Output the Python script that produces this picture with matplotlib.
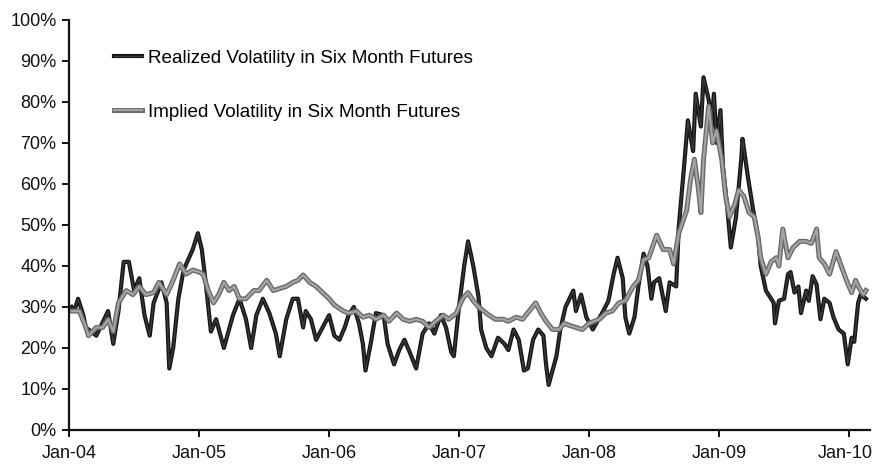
import numpy as np
import pandas as pd
import matplotlib
matplotlib.use("Agg")
import matplotlib.pyplot as plt
import matplotlib.dates as mdates
import matplotlib.patheffects as pe
import matplotlib.transforms as mtrans
from matplotlib.ticker import FuncFormatter, MultipleLocator

plt.rcParams['font.family'] = ['Liberation Sans', 'DejaVu Sans']

# ---------------- data (decimal years, volatility in %) ----------------
realized_t = [
    2004.02, 2004.04, 2004.07, 2004.11, 2004.13, 2004.21, 2004.30, 2004.34, 2004.38, 2004.42,
    2004.46, 2004.50, 2004.54, 2004.58, 2004.62, 2004.65, 2004.71, 2004.75, 2004.77, 2004.80,
    2004.84, 2004.88, 2004.95, 2004.99,
    2005.02, 2005.05, 2005.09, 2005.13, 2005.19, 2005.26, 2005.31, 2005.36, 2005.40, 2005.44,
    2005.49, 2005.54, 2005.59, 2005.62, 2005.67, 2005.72, 2005.76, 2005.80, 2005.82, 2005.86,
    2005.90, 2005.95,
    2006.00, 2006.04, 2006.08, 2006.12, 2006.15, 2006.19, 2006.23, 2006.26, 2006.28, 2006.32,
    2006.36, 2006.42, 2006.45, 2006.50, 2006.54, 2006.58, 2006.62, 2006.67, 2006.72, 2006.77,
    2006.81, 2006.86, 2006.90, 2006.94, 2006.96,
    2007.00, 2007.04, 2007.07, 2007.11, 2007.15, 2007.17, 2007.21, 2007.25, 2007.30, 2007.35,
    2007.38, 2007.42, 2007.46, 2007.50, 2007.53, 2007.57, 2007.61, 2007.65, 2007.67, 2007.69,
    2007.75, 2007.78, 2007.82, 2007.88, 2007.90, 2007.94, 2007.98,
    2008.03, 2008.11, 2008.15, 2008.19, 2008.22, 2008.26, 2008.28, 2008.31, 2008.35, 2008.38,
    2008.42, 2008.45, 2008.48, 2008.50, 2008.54, 2008.59, 2008.62, 2008.67, 2008.69, 2008.73,
    2008.76, 2008.80, 2008.82, 2008.86, 2008.88, 2008.92, 2008.94, 2008.96, 2008.98,
    2009.01, 2009.03, 2009.06, 2009.09, 2009.13, 2009.17, 2009.18, 2009.22, 2009.26, 2009.30,
    2009.32, 2009.36, 2009.42, 2009.43, 2009.46, 2009.50, 2009.53, 2009.55, 2009.58, 2009.61,
    2009.63, 2009.67, 2009.69, 2009.72, 2009.75, 2009.78, 2009.81, 2009.85, 2009.88, 2009.92,
    2009.96, 2009.99,
    2010.02, 2010.04, 2010.07, 2010.09, 2010.13,
]
realized_v = [
    30, 29, 32, 28, 25, 23, 29, 21, 29, 41,
    41, 34, 37, 28, 23, 31, 36, 31, 15, 20,
    32, 39, 44, 48,
    44, 36, 24, 27, 20, 28, 32, 27, 20, 28,
    32, 28.5, 23.5, 18, 27, 32, 32, 25, 29, 27,
    22, 25,
    28, 23, 22, 25, 28, 30, 26, 21, 14.5, 21,
    28.5, 28, 21, 16, 19.5, 22, 19, 15, 23.5, 26,
    23.5, 28, 25, 19, 18,
    30, 40, 46, 40, 32.5, 24.5, 20, 18, 22.5, 21,
    19.5, 24.5, 22, 14.5, 15, 22, 24.5, 23, 16, 11,
    18, 24.5, 30, 34, 29, 33, 27.5,
    24.5, 29, 31.5, 38, 42, 37, 27.5, 23.5, 27.5, 35,
    43, 40, 32, 36, 37, 29, 36, 35, 49.5, 64,
    75.5, 68, 82, 74, 86, 80.5, 74, 82, 70,
    78, 64, 55, 44.5, 52, 66, 71, 62, 54, 47,
    40, 34, 31, 26, 31.5, 32, 38, 38.5, 33.5, 35,
    28.5, 34, 31.5, 37.5, 35.5, 27, 32, 31, 27.5, 24.5,
    23.5, 16,
    22.5, 21.5, 31, 33, 32,
]

implied_t = [
    2004.02, 2004.08, 2004.13, 2004.15, 2004.21, 2004.26, 2004.30, 2004.34, 2004.38, 2004.44,
    2004.49, 2004.54, 2004.59, 2004.65, 2004.69, 2004.75, 2004.80, 2004.85, 2004.90, 2004.95,
    2005.00, 2005.03, 2005.07, 2005.11, 2005.15, 2005.19, 2005.23, 2005.27, 2005.31, 2005.36,
    2005.42, 2005.46, 2005.52, 2005.57, 2005.62, 2005.67, 2005.72, 2005.76, 2005.80, 2005.85,
    2005.90, 2005.95,
    2006.00, 2006.04, 2006.11, 2006.15, 2006.21, 2006.26, 2006.31, 2006.36, 2006.42, 2006.46,
    2006.52, 2006.57, 2006.62, 2006.67, 2006.72, 2006.77, 2006.82, 2006.88, 2006.92, 2006.98,
    2007.02, 2007.04, 2007.07, 2007.11, 2007.15, 2007.19, 2007.23, 2007.28, 2007.34, 2007.38,
    2007.44, 2007.49, 2007.54, 2007.59, 2007.63, 2007.67, 2007.72, 2007.77, 2007.81, 2007.85,
    2007.90, 2007.95,
    2008.00, 2008.08, 2008.13, 2008.18, 2008.23, 2008.28, 2008.34, 2008.38, 2008.42, 2008.46,
    2008.52, 2008.57, 2008.62, 2008.65, 2008.69, 2008.75, 2008.78, 2008.81, 2008.84, 2008.86,
    2008.88, 2008.92, 2008.95, 2008.98,
    2009.02, 2009.05, 2009.08, 2009.12, 2009.15, 2009.19, 2009.23, 2009.27, 2009.30, 2009.32,
    2009.36, 2009.40, 2009.44, 2009.46, 2009.49, 2009.53, 2009.57, 2009.62, 2009.67, 2009.71,
    2009.75, 2009.77, 2009.81, 2009.85, 2009.90, 2009.94, 2009.98,
    2010.02, 2010.05, 2010.08, 2010.11, 2010.13,
]
implied_v = [
    29, 29, 25, 23, 25, 25, 27, 24, 31, 34,
    33, 35, 33, 33.5, 36, 33, 36.5, 40.5, 38, 39,
    38.5, 38, 34, 31, 33, 36, 34, 35, 32, 32,
    34, 34, 36.5, 34, 34.5, 35, 36, 36.5, 37.8, 36,
    35, 33.5,
    32, 30.5, 29, 28.5, 29, 27.5, 28, 27, 28, 26.5,
    28.5, 27, 26.5, 27, 26.5, 25, 26.5, 28, 27, 28.5,
    31.5, 32.5, 33.5, 31.5, 30, 29, 28, 27, 27, 26.5,
    27.5, 27, 29, 31, 28.5, 26.5, 24.5, 24.5, 26, 25.5,
    25, 24.5,
    26, 27, 28.5, 29, 31, 31.5, 35, 36.5, 41.5, 42,
    47.5, 44, 44, 40.5, 48, 53.5, 61, 66, 59, 53,
    66, 79, 70, 73,
    66, 57, 52, 55, 58.5, 57, 53, 52, 47, 42,
    38, 41, 42, 40, 49, 42, 44.5, 46, 46, 45.5,
    49, 42, 40.5, 38, 43.5, 40, 36.5,
    33.5, 36.5, 34.5, 33, 34,
]

series_labels = ["Realized Volatility in Six Month Futures",
                 "Implied Volatility in Six Month Futures"]
tick_years = [2004, 2005, 2006, 2007, 2008, 2009, 2010]


def to_dates(dec):
    out = []
    for d in dec:
        y = int(np.floor(d))
        frac = d - y
        start = pd.Timestamp(year=y, month=1, day=1)
        end = pd.Timestamp(year=y + 1, month=1, day=1)
        out.append(start + (end - start) * frac)
    return out


fig = plt.figure(figsize=(8.73, 4.66), dpi=100)
ax = fig.add_axes([0.0790, 0.0773, 0.9176, 0.880])

r_line, = ax.plot(to_dates(realized_t), realized_v, color='#3a3a3a', lw=1.0,
                  label=series_labels[0], solid_joinstyle='round')
r_line.set_path_effects([pe.Stroke(linewidth=3.0, foreground='#151515'), pe.Normal()])

i_line, = ax.plot(to_dates(implied_t), implied_v, color='#a4a4a4', lw=1.6,
                  label=series_labels[1], solid_joinstyle='round')
i_line.set_path_effects([pe.Stroke(linewidth=3.6, foreground='#6a6a6a'), pe.Normal()])

ax.set_ylim(0, 100)
ax.set_xlim(pd.Timestamp('2004-01-01'), pd.Timestamp('2010-03-01'))
ax.yaxis.set_major_locator(MultipleLocator(10))
ax.yaxis.set_major_formatter(FuncFormatter(lambda v, p: f"{v:.0f}%"))
ax.set_xticks([pd.Timestamp(year=y, month=1, day=1) for y in tick_years])
ax.xaxis.set_major_formatter(mdates.DateFormatter('%b-%y'))

for s in ['top', 'right']:
    ax.spines[s].set_visible(False)
for s in ['left', 'bottom']:
    ax.spines[s].set_linewidth(1.6)
    ax.spines[s].set_color('#111111')

ax.tick_params(axis='both', direction='out', length=5, width=1.4, colors='#111111',
               labelsize=13, labelcolor='#111111')
ax.tick_params(axis='x', pad=6)
ax.tick_params(axis='y', pad=4)

# keep the last x label inside the figure, as in the reference
fig.canvas.draw()
last = ax.get_xticklabels()[-1]
last.set_transform(last.get_transform() + mtrans.ScaledTranslation(-4 / 100, 0, fig.dpi_scale_trans))

leg = ax.legend(loc='upper left', bbox_to_anchor=(0.056, 0.928), frameon=False,
                fontsize=13.6, handlelength=1.5, handletextpad=0.3,
                labelspacing=1.95, borderpad=0, borderaxespad=0)

fig.savefig('out.png', dpi=100)
